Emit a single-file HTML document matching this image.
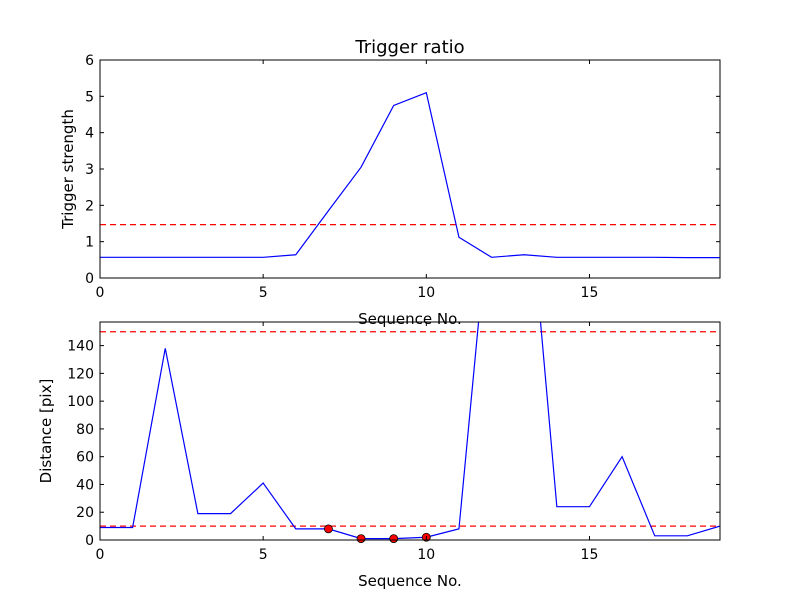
<!DOCTYPE html>
<html><head><meta charset="utf-8"><style>
body{margin:0;background:#fff}
svg{display:block;font-family:"DejaVu Sans","Liberation Sans",sans-serif}
</style></head><body>
<svg id="c" width="800" height="600" viewBox="0 0 800 600"></svg>
<script>
const seq = [0,1,2,3,4,5,6,7,8,9,10,11,12,13,14,15,16,17,18,19];
const strength = [0.57,0.57,0.57,0.57,0.57,0.57,0.64,1.85,3.05,4.75,5.1,1.12,0.57,0.64,0.57,0.57,0.57,0.57,0.56,0.56];
const strengthThreshold = [1.47];
const distance = [9,9,138,19,19,41,8,8,1,1,2,8,256,290,24,24,60,3,3,10];
const distThresholds = [150,10];
const dotSeq = [7,8,9,10];
const dotDist = [8,1,1,2];
const xTicks = [0,5,10,15];
const topYTicks = [0,1,2,3,4,5,6];
const botYTicks = [0,20,40,60,80,100,120,140];

const NS="http://www.w3.org/2000/svg";
const svg=document.getElementById('c');
function el(t,a,p){const e=document.createElementNS(NS,t);for(const k in a)e.setAttribute(k,a[k]);(p||svg).appendChild(e);return e;}
function txt(s,a,p){const e=el('text',a,p);e.textContent=s;return e;}

function panel(o){
  const sx=v=>o.x0+(v-o.xmin)/(o.xmax-o.xmin)*(o.x1-o.x0);
  const sy=v=>o.y1-(v-o.ymin)/(o.ymax-o.ymin)*(o.y1-o.y0);
  const g=el('g',{});
  
  const cid='clip-'+o.name;
  const cp=el('clipPath',{id:cid},g);el('rect',{x:o.x0,y:o.y0,width:o.x1-o.x0,height:o.y1-o.y0},cp);
  const plot=el('g',{'clip-path':'url(#'+cid+')'},g);
  o.th.forEach(t=>{const l=el('line',{x1:o.x0,x2:o.x1,y1:sy(t),y2:sy(t),stroke:'#ff0000','stroke-width':1.2,'stroke-dasharray':'6,4'},plot);
    });
  const pl=el('polyline',{points:o.xs.map((x,i)=>sx(x)+','+sy(o.ys[i])).join(' '),fill:'none',stroke:'#0000ff','stroke-width':1.2},plot);
  
  if(o.dx)o.dx.forEach((x,i)=>{const c=el('circle',{cx:sx(x),cy:sy(o.dy[i]),r:4,fill:'#ff0000',stroke:'#000','stroke-width':0.8},g);
    });
  el('rect',{x:o.x0,y:o.y0,width:o.x1-o.x0,height:o.y1-o.y0,fill:'none',stroke:'#000','stroke-width':1},g);
  xTicks.forEach(t=>{const X=sx(t);
    el('line',{x1:X,x2:X,y1:o.y1,y2:o.y1-4,stroke:'#000'},g);el('line',{x1:X,x2:X,y1:o.y0,y2:o.y0+4,stroke:'#000'},g);
    const l=txt(t,{x:X,y:o.y1+19,'text-anchor':'middle','font-size':14},g);});
  o.yt.forEach(t=>{const Y=sy(t);
    el('line',{x1:o.x0,x2:o.x0+4,y1:Y,y2:Y,stroke:'#000'},g);el('line',{x1:o.x1,x2:o.x1-4,y1:Y,y2:Y,stroke:'#000'},g);
    const l=txt(t,{x:o.x0-6,y:Y+5,'text-anchor':'end','font-size':14},g);});
  const xl=txt('Sequence No.',{x:(o.x0+o.x1)/2,y:o.y1+46,'text-anchor':'middle','font-size':15},g);
  
  const yl=txt(o.ylabel,{x:0,y:0,'text-anchor':'middle','font-size':15,transform:`translate(${o.ylx},${(o.y0+o.y1)/2}) rotate(-90)`},g);
  
  return g;
}
panel({name:'trigger-panel',x0:100,x1:720,y0:60,y1:278,xmin:0,xmax:19,ymin:0,ymax:6,xs:seq,ys:strength,th:strengthThreshold,yt:topYTicks,ylabel:'Trigger strength',ylx:73});
panel({name:'distance-panel',x0:100,x1:720,y0:322,y1:540,xmin:0,xmax:19,ymin:0,ymax:157,xs:seq,ys:distance,th:distThresholds,yt:botYTicks,ylabel:'Distance [pix]',ylx:51,dx:dotSeq,dy:dotDist});
const t=txt('Trigger ratio',{x:410,y:53,'text-anchor':'middle','font-size':18});

</script>
</body></html>
